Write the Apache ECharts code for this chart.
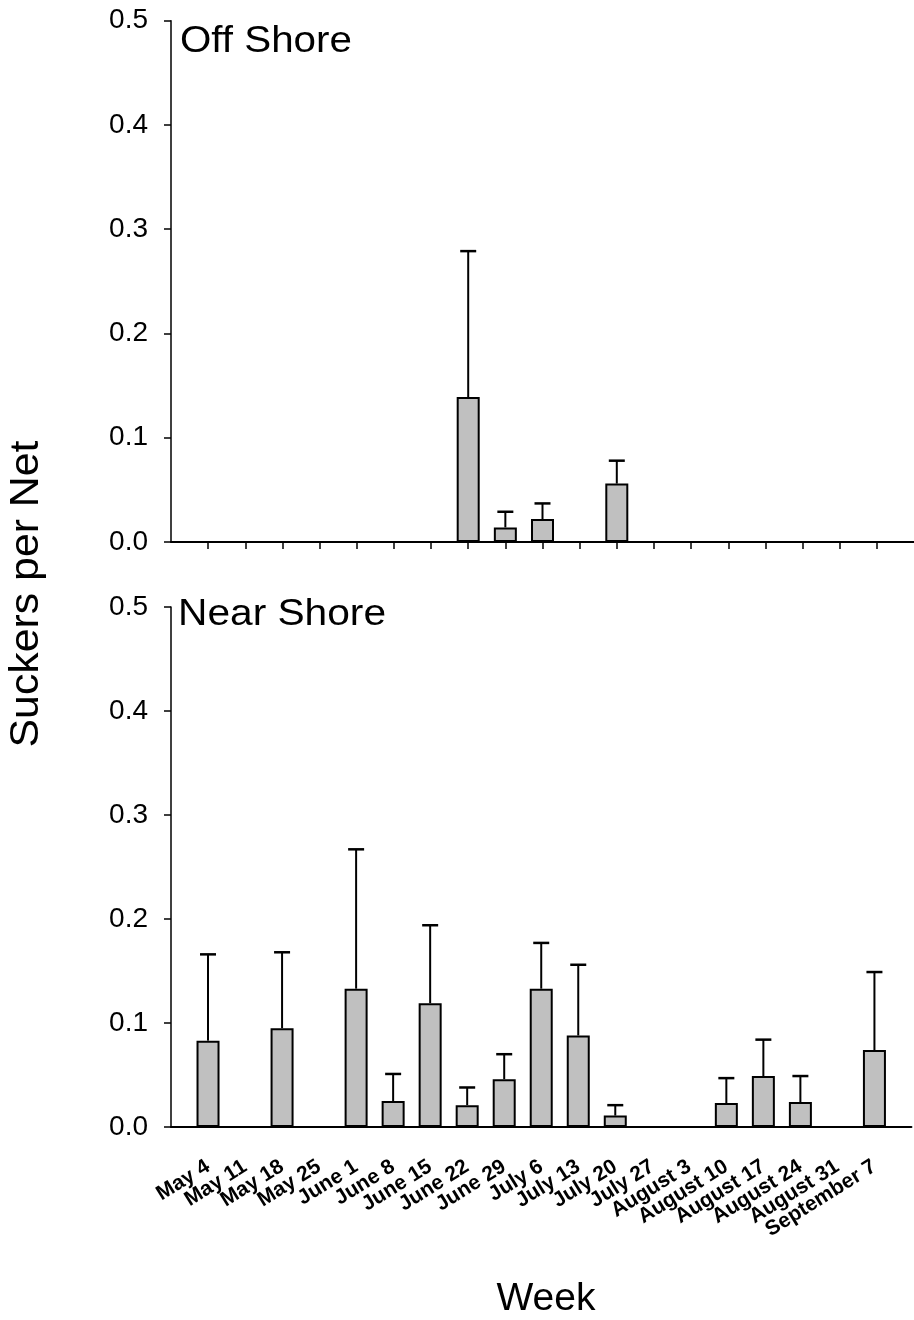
<!DOCTYPE html>
<html>
<head>
<meta charset="utf-8">
<script src="https://cdn.jsdelivr.net/npm/echarts@6/dist/echarts.min.js"></script>
<style>
  html, body { margin: 0; padding: 0; background: #fff; }
  #chart { width: 914px; height: 1320px; }
</style>
</head>
<body>
<div id="chart"></div>
<script>
// weeks along the x axis
const weeks = ['May 4', 'May 11', 'May 18', 'May 25', 'June 1', 'June 8', 'June 15', 'June 22',
  'June 29', 'July 6', 'July 13', 'July 20', 'July 27', 'August 3', 'August 10', 'August 17',
  'August 24', 'August 31', 'September 7']

// mean suckers per net and standard error, off shore
const offMean = [0, 0, 0, 0, 0, 0, 0, 0.139, 0.014, 0.022, 0, 0.056, 0, 0, 0, 0, 0, 0, 0]
const offSE = [0, 0, 0, 0, 0, 0, 0, 0.140, 0.015, 0.015, 0, 0.022, 0, 0, 0, 0, 0, 0, 0]

// near shore
const nearMean = [0.083, 0, 0.095, 0, 0.133, 0.025, 0.119, 0.021, 0.046, 0.133, 0.088, 0.011, 0, 0, 0.023, 0.049, 0.024, 0, 0.074]
const nearSE = [0.083, 0, 0.073, 0, 0.134, 0.026, 0.075, 0.017, 0.024, 0.044, 0.068, 0.010, 0, 0, 0.024, 0.035, 0.025, 0, 0.075]

const yTicks = [0, 0.1, 0.2, 0.3, 0.4, 0.5]

const chart = echarts.init(document.getElementById('chart'))
const FONT = '"Liberation Sans", Arial, sans-serif'

function barData(means) {
  return means.map((v, i) => [i + 1, v])
}

function errData(means, se) {
  return means.map((v, i) => [i + 1, v, se[i]]).filter((d) => d[2] > 0)
}

function renderErr(params, api) {
  const x = api.value(0)
  const base = api.coord([x, api.value(1)])
  const top = api.coord([x, api.value(1) + api.value(2)])
  const style = { stroke: '#000', lineWidth: 2 }
  return {
    type: 'group',
    children: [
      { type: 'line', shape: { x1: base[0], y1: base[1], x2: top[0], y2: top[1] }, style },
      { type: 'line', shape: { x1: top[0] - 8, y1: top[1], x2: top[0] + 8, y2: top[1] }, style: { stroke: '#000', lineWidth: 2.5 } },
    ],
  }
}

function xAxisFor(gridIndex, showLabels) {
  return {
    type: 'value',
    gridIndex,
    min: 0,
    max: weeks.length + 1,
    interval: 1,
    splitLine: { show: false },
    axisLine: { show: true, onZero: false, lineStyle: { color: '#000', width: 2 } },
    axisTick: {
      show: !showLabels,
      length: 7,
      lineStyle: { color: '#000', width: 1.5 },
      customValues: weeks.map((_, i) => i + 1),
    },
    axisLabel: {
      show: showLabels,
      rotate: 32,
      margin: 38,
      fontFamily: FONT,
      fontSize: 21,
      fontWeight: 'bold',
      color: '#000',
      formatter: (v) => weeks[v - 1] || '',
    },
  }
}

function yAxisFor(gridIndex) {
  return {
    type: 'value',
    gridIndex,
    min: yTicks[0],
    max: yTicks[yTicks.length - 1],
    interval: 0.1,
    splitLine: { show: false },
    axisLine: { show: true, lineStyle: { color: '#000', width: 1.5 } },
    axisTick: { show: true, length: 7, lineStyle: { color: '#000', width: 1.5 } },
    axisLabel: {
      margin: 23,
      fontFamily: FONT,
      fontSize: 28,
      color: '#000',
      formatter: (v) => v.toFixed(1),
    },
  }
}

function barSeries(idx, means) {
  return {
    type: 'bar',
    xAxisIndex: idx,
    yAxisIndex: idx,
    barWidth: 23,
    data: barData(means),
    itemStyle: { color: '#c0c0c0', borderColor: '#000', borderWidth: 2 },
    z: 2,
  }
}

function errSeries(idx, means, se) {
  return {
    type: 'custom',
    xAxisIndex: idx,
    yAxisIndex: idx,
    data: errData(means, se),
    renderItem: renderErr,
    z: 1,
  }
}

function label(text, x, y, size, extra) {
  return Object.assign({
    type: 'text',
    x,
    y,
    style: {
      text,
      fontFamily: FONT,
      fontSize: size,
      fill: '#000',
      textAlign: 'left',
      textVerticalAlign: 'middle',
    },
  }, extra || {})
}

chart.setOption({
  animation: false,
  backgroundColor: '#fff',
  grid: [
    { left: 171, top: 20.7, width: 746, height: 521.3 },
    { left: 171, top: 607, width: 746, height: 520 },
  ],
  xAxis: [xAxisFor(0, false), xAxisFor(1, true)],
  yAxis: [yAxisFor(0), yAxisFor(1)],
  series: [
    errSeries(0, offMean, offSE),
    barSeries(0, offMean),
    errSeries(1, nearMean, nearSE),
    barSeries(1, nearMean),
  ],
  graphic: [
    label('Off Shore', 180, 42, 36, { scaleX: 1.12 }),
    label('Near Shore', 178, 615, 36, { scaleX: 1.13 }),
    {
      type: 'text',
      x: 546,
      y: 1299,
      style: { text: 'Week', fontFamily: FONT, fontSize: 39, fill: '#000', textAlign: 'center', textVerticalAlign: 'middle' },
    },
    {
      type: 'text',
      x: 27,
      y: 594,
      rotation: Math.PI / 2,
      scaleX: 1.07,
      style: { text: 'Suckers per Net', fontFamily: FONT, fontSize: 40, fill: '#000', textAlign: 'center', textVerticalAlign: 'middle' },
    },
  ],
})
</script>
</body>
</html>
